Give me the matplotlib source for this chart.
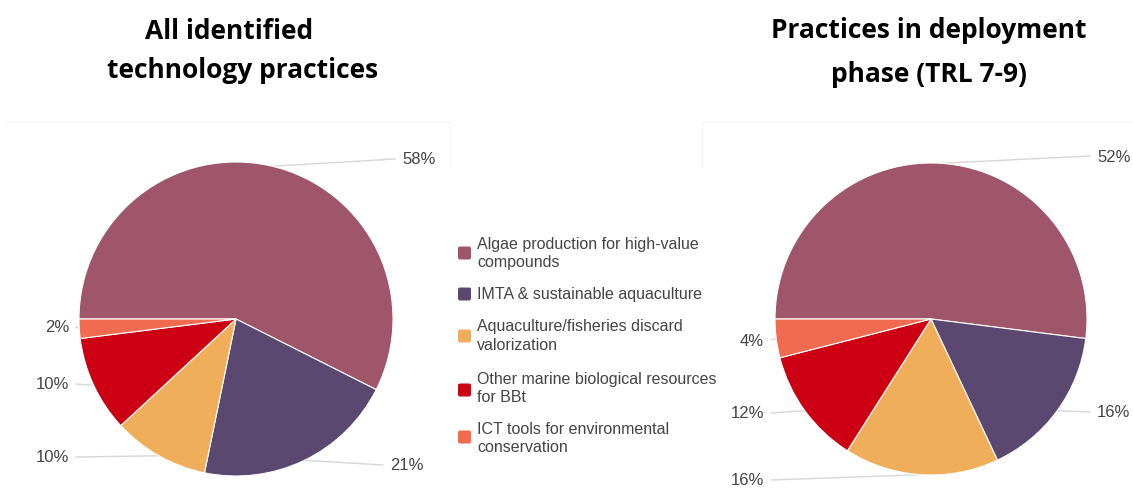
import matplotlib
matplotlib.use("Agg")
import matplotlib.pyplot as plt
from matplotlib.patches import FancyBboxPatch
import numpy as np

# Categories and shares (percent)
categories = [
    "Algae production for high-value\ncompounds",
    "IMTA & sustainable aquaculture",
    "Aquaculture/fisheries discard\nvalorization",
    "Other marine biological resources\nfor BBt",
    "ICT tools for environmental\nconservation",
]
all_practices = [58, 21, 10, 10, 2]
deployment_practices = [52, 16, 16, 12, 4]

colors = ["#a0566a", "#5b4870", "#f0ae5a", "#cc0012", "#f26b50"]

W, H = 1133, 502
fig = plt.figure(figsize=(W / 100, H / 100), dpi=100)
ax = fig.add_axes([0, 0, 1, 1])


def Y(y):
    # pixel rows counted from the top
    return H - y


def draw_pie(values, cx, cy, r, label_pos):
    wedges, _ = ax.pie(values, colors=colors, center=(cx, Y(cy)), radius=r,
                       startangle=180, counterclock=False,
                       wedgeprops=dict(edgecolor="white", linewidth=0.8))
    for w, v, (lx, ly, ha) in zip(wedges, values, label_pos):
        mid = np.deg2rad((w.theta1 + w.theta2) / 2)
        px, py = cx + r * np.cos(mid), Y(cy) + r * np.sin(mid)
        ex = lx - 7 if ha == "left" else lx + 7
        ax.plot([px, ex], [py, Y(ly)], color="#d6d6d6", lw=1, zorder=0)
        ax.text(lx, Y(ly), f"{v}%", ha=ha, va="center", fontsize=12,
                color="#444444", family="Liberation Sans")


# label anchors (x, y, alignment)
left_labels = [(402, 160, "left"), (390, 466, "left"), (69, 458, "right"),
               (69, 385, "right"), (69, 328, "right")]
right_labels = [(1097, 157, "left"), (1097, 413, "left"), (764, 481, "right"),
                (764, 414, "right"), (764, 341, "right")]

draw_pie(all_practices, 236, 320, 157, left_labels)
draw_pie(deployment_practices, 931, 320, 156, right_labels)

# faint chart frames
for xs, ys in [([5, 450, 450], [123, 123, 168]),
               ([702, 702, 1133], [168, 123, 123])]:
    ax.plot(xs, [Y(v) for v in ys], color="#f6f6f6", lw=1, zorder=0)

# legend
legend_rows = [(254, [245, 263]), (295, [295]), (337, [327, 346]),
               (391, [380, 398]), (438, [430, 448])]
for c, label, (sq_y, line_ys) in zip(colors, categories, legend_rows):
    ax.add_patch(FancyBboxPatch((458, Y(sq_y) - 6.5), 13, 13,
                                boxstyle="round,pad=0,rounding_size=2",
                                facecolor=c, edgecolor="none"))
    for txt, ly in zip(label.split("\n"), line_ys):
        ax.text(477, Y(ly), txt, ha="left", va="center", fontsize=11.5,
                color="#444444", family="Liberation Sans")

# titles (x centre, baseline y, text)
titles = [(229, 39, "All identified"), (243, 78, "technology practices"),
          (929, 38, "Practices in deployment"), (929, 82, "phase (TRL 7-9)")]
for tx, ty, t in titles:
    ax.text(tx, Y(ty), t, ha="center", va="baseline", fontsize=19,
            fontweight="bold", family="Open Sans", color="black")

ax.set_xlim(0, W)
ax.set_ylim(0, H)
ax.set_aspect("equal")
ax.axis("off")

fig.savefig("out.png", dpi=100, facecolor="white")
